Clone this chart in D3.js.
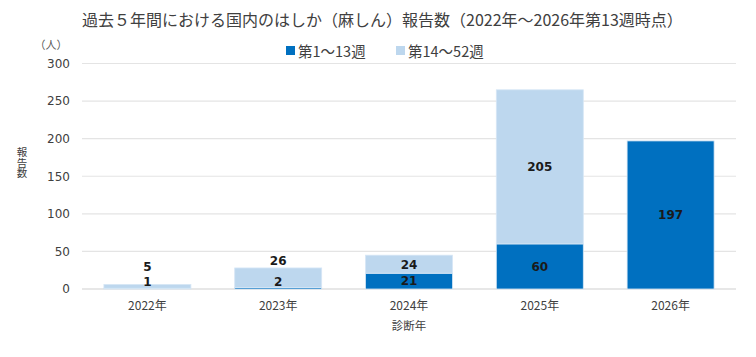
<!DOCTYPE html>
<html><head><meta charset="utf-8">
<script src="https://cdn.jsdelivr.net/npm/d3@7"></script>
<style>body{margin:0;background:#fff}svg{display:block}</style>
</head><body>
<script>
const categories = ["2022年","2023年","2024年","2025年","2026年"];
const seriesNames = ["第1～13週","第14～52週"];
const early = [1, 2, 21, 60, 197];
const late = [5, 26, 24, 205, 0];
const yTicks = [0, 50, 100, 150, 200, 250, 300];
const colors = ["#0070C0", "#BDD7EE"];

const W = 756, H = 357;
const font = "'Noto Sans CJK JP', 'Noto Sans', sans-serif";
const numFont = "'DejaVu Sans', 'Noto Sans CJK JP', sans-serif";
const svg = d3.select("body").append("svg").attr("width", W).attr("height", H);

const x = d3.scaleBand().domain(categories).range([82, 736]).paddingInner(0.335).paddingOuter(0.1675);
const y = d3.scaleLinear().domain([0, 300]).range([289, 63.5]);

// title
svg.append("text").attr("x", 82).attr("y", 26).attr("font-family", font).attr("font-size", 16)
  .attr("fill", "#404040").text("過去５年間における国内のはしか（麻しん）報告数（2022年～2026年第13週時点）");

// gridlines
svg.append("g").selectAll("line").data(yTicks).join("line")
  .attr("x1", 82).attr("x2", 736).attr("y1", d => y(d)).attr("y2", d => y(d))
  .attr("stroke", d => d === 0 ? "#d0d0d0" : "#e4e4e4").attr("stroke-width", 1.2);

// y axis
const yAxis = d3.axisLeft(y).tickValues(yTicks).tickSize(0).tickPadding(12);
const ga = svg.append("g").attr("transform", "translate(82,0)").call(yAxis);
ga.select(".domain").remove();
ga.selectAll("text").attr("font-family", numFont).attr("font-size", 12).attr("fill", "#404040");

svg.append("text").attr("x", 51).attr("y", 49).attr("text-anchor", "middle").attr("font-family", font)
  .attr("font-size", 11).attr("fill", "#595959").text("（人）");

// y title, vertical writing
svg.append("text").attr("x", 22).attr("y", 147).attr("font-family", font).attr("font-size", 10.5)
  .attr("fill", "#404040").style("writing-mode", "vertical-rl").style("text-orientation", "upright")
  .text("報告数");

// x axis
const xAxis = d3.axisBottom(x).tickSize(0).tickPadding(12);
const gx = svg.append("g").attr("transform", "translate(0,289)").call(xAxis);
gx.select(".domain").remove();
gx.selectAll("text").attr("font-family", font).attr("font-size", 12).attr("fill", "#404040");
svg.append("text").attr("x", 409).attr("y", 330).attr("text-anchor", "middle").attr("font-family", font)
  .attr("font-size", 11.5).attr("fill", "#404040").text("診断年");

// stacked data
const rows = categories.map((c, i) => ({cat: c, early: early[i], late: late[i]}));
const stack = d3.stack().keys(["early", "late"])(rows);

svg.append("g").selectAll("g").data(stack).join("g")
  .attr("fill", (d, i) => colors[i])
  .selectAll("rect").data(d => d.filter(s => s[1] - s[0] > 0)).join("rect")
  .attr("x", d => x(d.data.cat)).attr("width", x.bandwidth())
  .attr("y", d => y(d[1])).attr("height", d => y(d[0]) - y(d[1]))
  .attr("stroke", "#d6e6f5").attr("stroke-width", 0.8);

// labels
const lbl = svg.append("g").attr("font-family", numFont).attr("font-size", 12).attr("font-weight", "bold")
  .attr("fill", "#1a1a1a").attr("text-anchor", "middle");
rows.forEach((r, i) => {
  const cx = x(r.cat) + x.bandwidth() / 2;
  let dy = null;
  if (r.early > 0) {
    dy = Math.min((y(0) + y(r.early)) / 2, y(0) - 7);
    lbl.append("text").attr("x", cx).attr("y", dy).attr("dy", "0.36em").text(r.early);
  }
  if (r.late > 0) {
    const top = y(r.early + r.late), bot = y(r.early);
    let ly = (top + bot) / 2;
    if (dy !== null && dy - ly < 15) ly = Math.min(dy - 15, top - 7);
    lbl.append("text").attr("x", cx).attr("y", ly).attr("dy", "0.36em").text(r.late);
  }
});

// legend
const lg = svg.append("g").attr("font-family", font).attr("font-size", 14.5).attr("fill", "#404040");
const legX = [286, 396];
seriesNames.forEach((n, i) => {
  lg.append("rect").attr("x", legX[i]).attr("y", 46).attr("width", 9).attr("height", 9).attr("fill", colors[i]);
  lg.append("text").attr("x", legX[i] + 12).attr("y", 56.5).text(n);
});
</script>
</body></html>
